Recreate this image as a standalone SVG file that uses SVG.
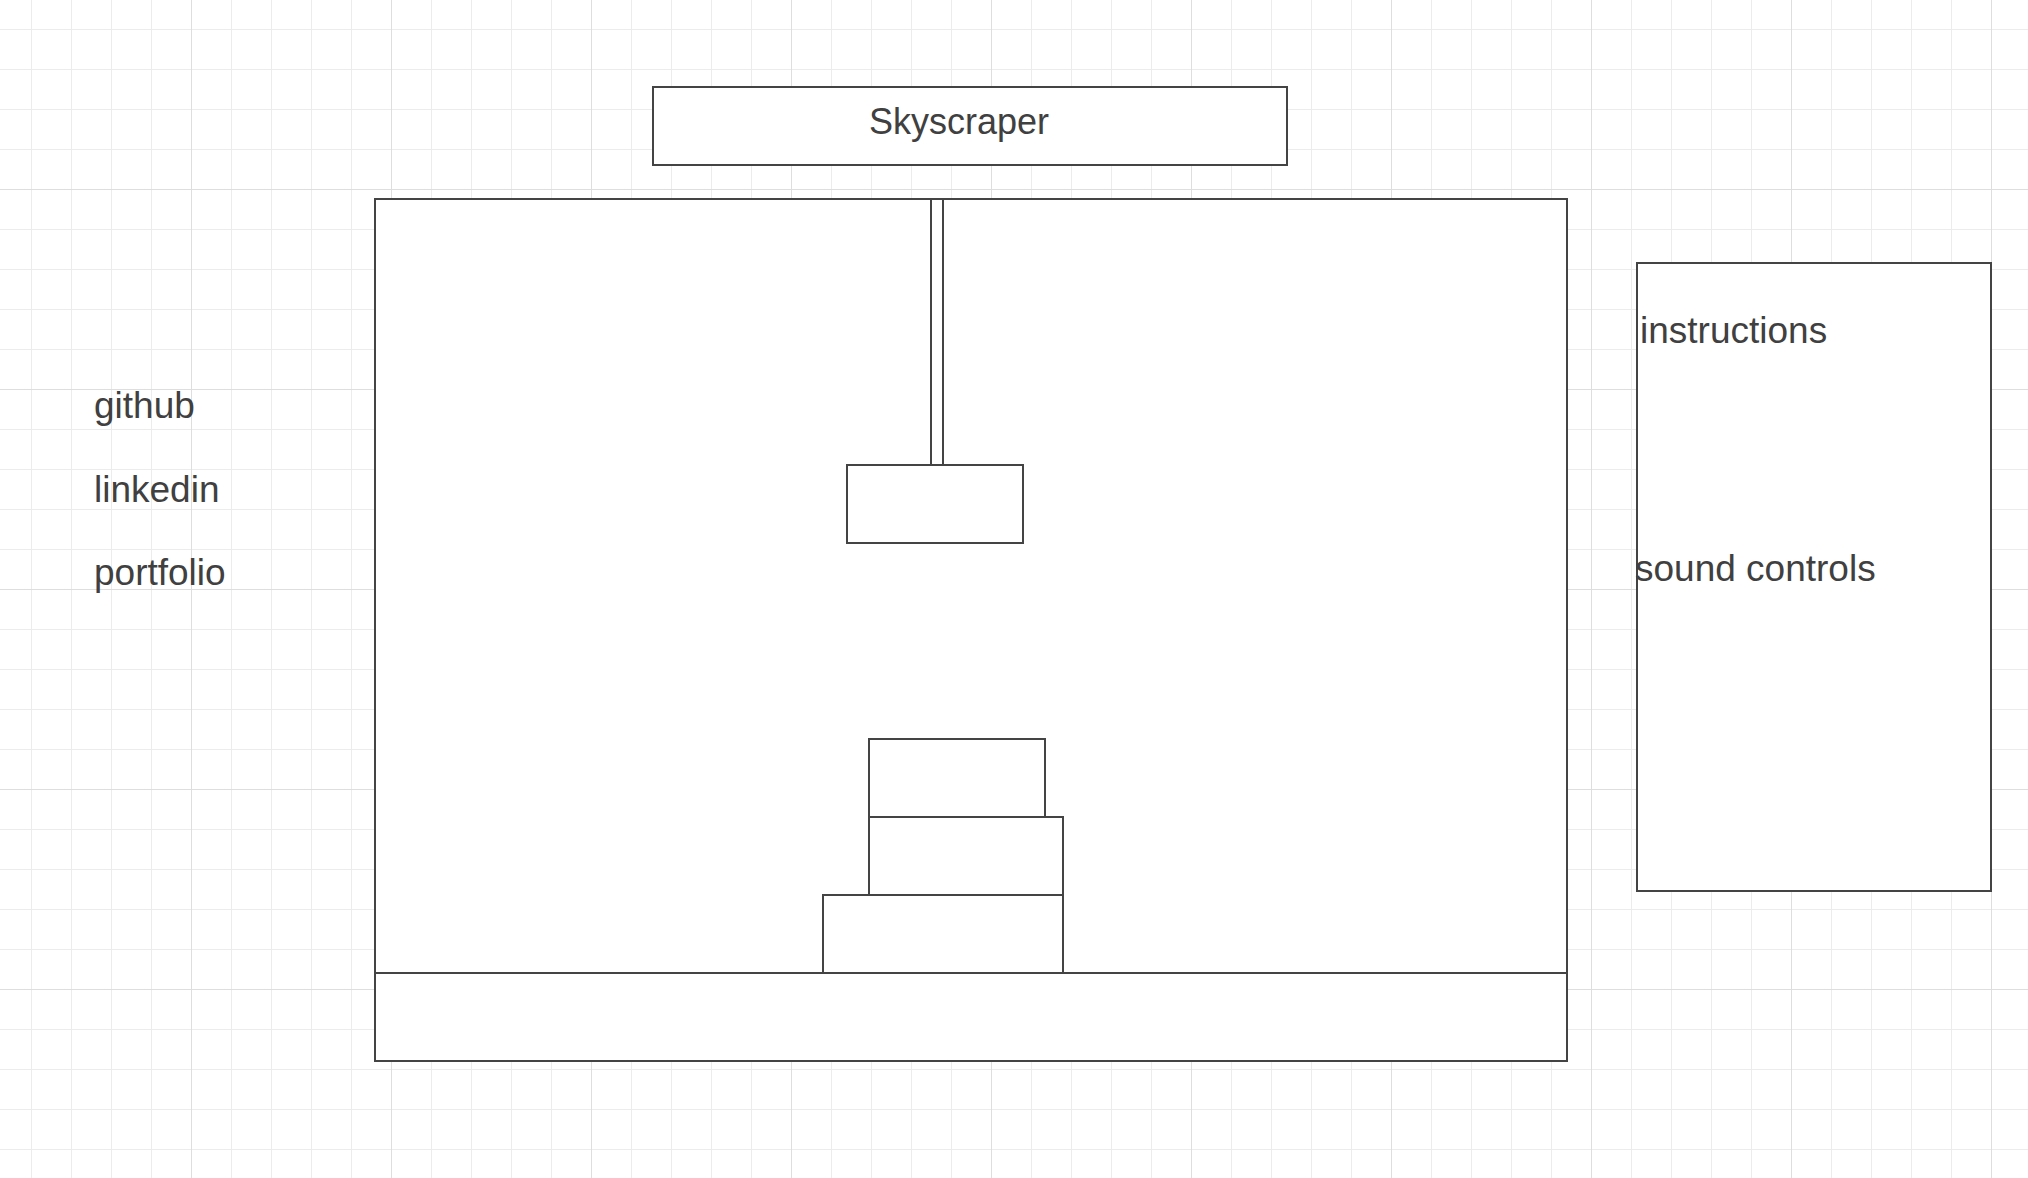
<svg xmlns="http://www.w3.org/2000/svg" width="2028" height="1178" viewBox="0 0 2028 1178">
<style>
.minor{stroke:#ececec;stroke-width:1;fill:none}
.major{stroke:#dedede;stroke-width:1;fill:none}
.box{fill:#ffffff;stroke:#444444;stroke-width:2}
.ln{stroke:#444444;stroke-width:2;fill:none}
.t{font-family:"Liberation Sans",Arial,sans-serif;font-size:37px;fill:#404040}
</style>
<rect x="0" y="0" width="2028" height="1178" fill="#ffffff"/>
<g id="grid">
<path class="minor" d="M31.5 0V1178M71.5 0V1178M111.5 0V1178M151.5 0V1178M231.5 0V1178M271.5 0V1178M311.5 0V1178M351.5 0V1178M431.5 0V1178M471.5 0V1178M511.5 0V1178M551.5 0V1178M631.5 0V1178M671.5 0V1178M711.5 0V1178M751.5 0V1178M831.5 0V1178M871.5 0V1178M911.5 0V1178M951.5 0V1178M1031.5 0V1178M1071.5 0V1178M1111.5 0V1178M1151.5 0V1178M1231.5 0V1178M1271.5 0V1178M1311.5 0V1178M1351.5 0V1178M1431.5 0V1178M1471.5 0V1178M1511.5 0V1178M1551.5 0V1178M1631.5 0V1178M1671.5 0V1178M1711.5 0V1178M1751.5 0V1178M1831.5 0V1178M1871.5 0V1178M1911.5 0V1178M1951.5 0V1178"/>
<path class="minor" d="M0 29.5H2028M0 69.5H2028M0 109.5H2028M0 149.5H2028M0 229.5H2028M0 269.5H2028M0 309.5H2028M0 349.5H2028M0 429.5H2028M0 469.5H2028M0 509.5H2028M0 549.5H2028M0 629.5H2028M0 669.5H2028M0 709.5H2028M0 749.5H2028M0 829.5H2028M0 869.5H2028M0 909.5H2028M0 949.5H2028M0 1029.5H2028M0 1069.5H2028M0 1109.5H2028M0 1149.5H2028"/>
<path class="major" d="M191.5 0V1178M391.5 0V1178M591.5 0V1178M791.5 0V1178M991.5 0V1178M1191.5 0V1178M1391.5 0V1178M1591.5 0V1178M1791.5 0V1178M1991.5 0V1178M0 189.5H2028M0 389.5H2028M0 589.5H2028M0 789.5H2028M0 989.5H2028"/>
</g>
<g id="title">
<rect class="box" x="653" y="87" width="634" height="78"/>
<text class="t" x="869" y="134" style="font-size:36px">Skyscraper</text>
</g>
<g id="game-area">
<rect class="box" x="375" y="199" width="1192" height="862"/>
</g>
<g id="ground">
<path class="ln" d="M375 973H1567"/>
</g>
<g id="crane-rope">
<rect class="box" x="931" y="199" width="12" height="266"/>
</g>
<g id="hanging-block">
<rect class="box" x="847" y="465" width="176" height="78"/>
</g>
<g id="block-bottom">
<rect class="box" x="823" y="895" width="240" height="78"/>
</g>
<g id="block-middle">
<rect class="box" x="869" y="817" width="194" height="78"/>
</g>
<g id="block-top">
<rect class="box" x="869" y="739" width="176" height="78"/>
</g>
<g id="side-panel">
<rect class="box" x="1637" y="263" width="354" height="628"/>
<text class="t" x="1640" y="343">instructions</text>
<text class="t" x="1635" y="581">sound controls</text>
</g>
<g id="links">
<text class="t" x="94" y="418">github</text>
<text class="t" x="94" y="502">linkedin</text>
<text class="t" x="94" y="585">portfolio</text>
</g>
<g id="connectors"></g>
</svg>
